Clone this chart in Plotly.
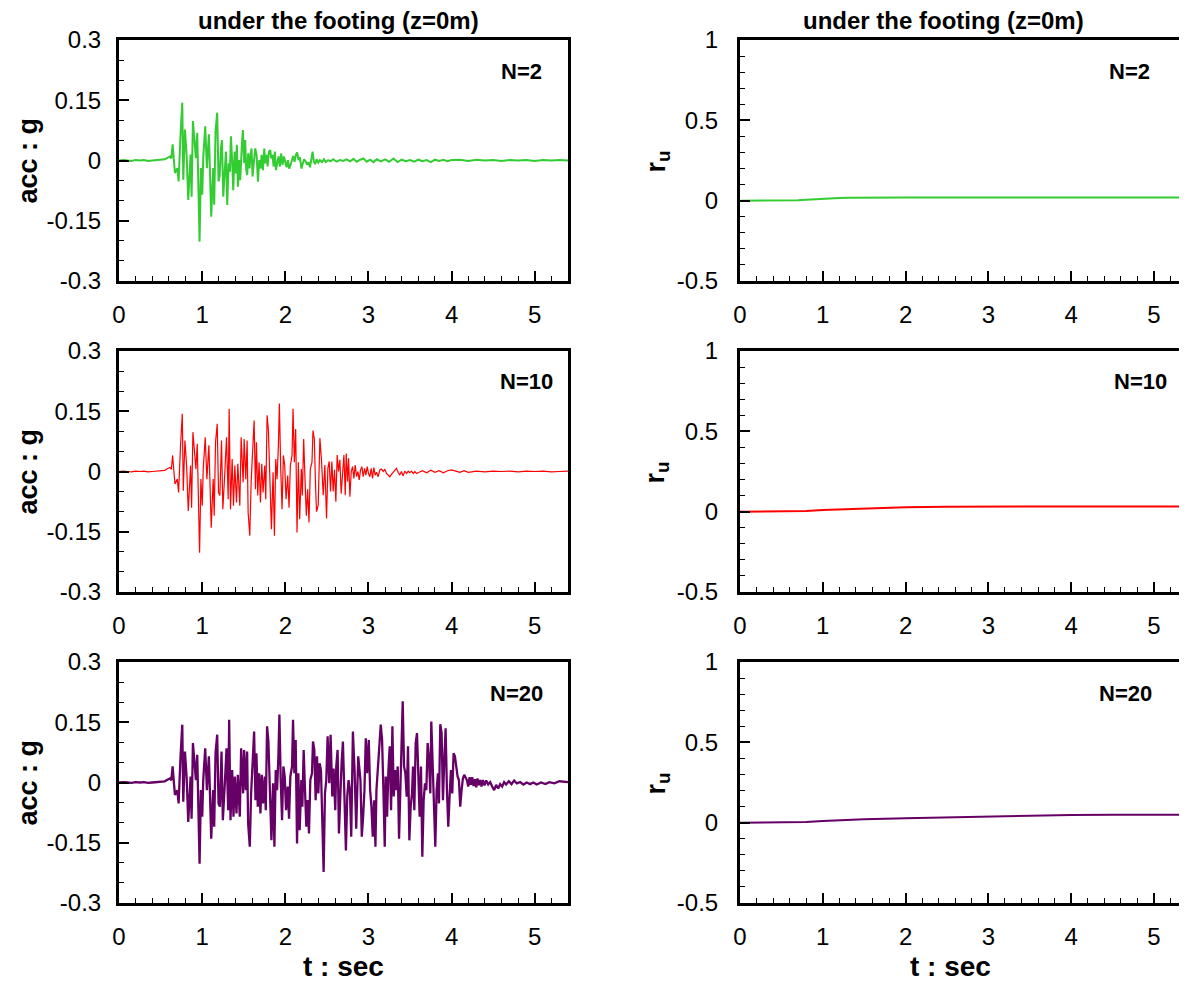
import plotly.graph_objects as go

# ---------------- data ----------------
# lead-in, common to all three records
t_lead = [0.00, 0.05, 0.10, 0.15, 0.20, 0.25, 0.30, 0.35, 0.40, 0.45, 0.50, 0.55]
acc_lead = [0.000, 0.001, 0.000, -0.001, 0.001, 0.000, 0.001, -0.001, 0.000, 0.001, 0.002, 0.003]

# first strong-motion part, common to all three records
t_pre = [0.593, 0.613, 0.629, 0.645, 0.661, 0.673, 0.701, 0.717, 0.741, 0.761,
         0.773, 0.793, 0.813, 0.833, 0.861, 0.873, 0.889, 0.909, 0.925, 0.941,
         0.953, 0.969, 0.985, 1.001, 1.013, 1.037, 1.057, 1.081, 1.093, 1.109,
         1.133, 1.145, 1.161, 1.181, 1.197]
acc_pre = [0.008, 0.010, 0.005, 0.040, -0.002, -0.031, -0.019, -0.052, 0.069, 0.144,
           -0.048, 0.077, 0.015, -0.098, 0.015, -0.090, 0.098, 0.056, 0.006, 0.069,
           -0.019, -0.202, -0.019, -0.085, 0.006, 0.085, -0.019, 0.065, -0.019, -0.140,
           -0.019, -0.110, 0.073, 0.119, -0.052]

# middle part, common to N=10 and N=20
t_mid = [1.213, 1.233, 1.249, 1.273, 1.293, 1.313, 1.325, 1.341, 1.361, 1.377,
         1.393, 1.413, 1.429, 1.453, 1.469, 1.493, 1.505, 1.525, 1.541, 1.553,
         1.573, 1.589, 1.609, 1.625, 1.641, 1.653, 1.669, 1.685, 1.701, 1.717,
         1.733, 1.753, 1.765, 1.781, 1.797, 1.817, 1.833, 1.853, 1.869, 1.885,
         1.901, 1.917, 1.929, 1.945, 1.961, 1.977, 1.993, 2.009, 2.029, 2.045,
         2.061, 2.081, 2.093, 2.109, 2.125, 2.141, 2.157, 2.173, 2.193, 2.205,
         2.221, 2.237, 2.253, 2.269, 2.285, 2.301, 2.321, 2.333, 2.349, 2.365]
acc_mid = [-0.060, 0.077, -0.094, -0.002, 0.085, -0.069, 0.156, -0.094, 0.031, -0.085,
           0.015, -0.077, 0.019, -0.085, 0.085, -0.027, 0.081, -0.019, 0.077, -0.102,
           -0.160, -0.027, 0.081, 0.127, -0.044, 0.073, -0.060, 0.023, -0.077, 0.019,
           -0.052, 0.015, -0.069, 0.140, 0.102, -0.035, -0.144, -0.002, -0.160, 0.031,
           -0.019, 0.065, 0.169, 0.006, -0.094, 0.040, 0.015, -0.069, -0.010, -0.090,
           0.015, 0.040, 0.156, 0.023, 0.106, -0.152, 0.023, -0.119, 0.006, -0.060,
           0.081, -0.019, -0.110, -0.044, -0.127, 0.006, 0.023, 0.102, 0.081, -0.044]

# N=2 after 1.2 s
t_n2_rest = [1.210, 1.226, 1.238, 1.254, 1.270, 1.286, 1.302, 1.318, 1.334, 1.346,
             1.362, 1.374, 1.390, 1.402, 1.418, 1.430, 1.446, 1.458, 1.478, 1.490,
             1.506, 1.518, 1.530, 1.542, 1.554, 1.570, 1.582, 1.594, 1.606, 1.622,
             1.638, 1.655, 1.671, 1.687, 1.703, 1.715, 1.731, 1.747, 1.759, 1.775,
             1.787, 1.803, 1.819, 1.831, 1.847, 1.859, 1.875, 1.887, 1.903, 1.919,
             1.935, 1.951, 1.967, 1.983, 1.999, 2.015, 2.031, 2.047, 2.063, 2.079,
             2.095, 2.111, 2.127, 2.143, 2.159, 2.175, 2.195, 2.211, 2.227, 2.247,
             2.263, 2.280, 2.296, 2.312, 2.328, 2.344, 2.360, 2.376, 2.396, 2.416,
             2.440, 2.464, 2.488, 2.516, 2.544, 2.576, 2.616, 2.656, 2.696, 2.736,
             2.78, 2.82, 2.86, 2.90, 2.94, 2.98, 3.02, 3.06, 3.10, 3.15,
             3.20, 3.25, 3.30, 3.35, 3.40, 3.45, 3.50, 3.55, 3.60, 3.65,
             3.70, 3.75, 3.80, 3.85, 3.90, 3.95, 4.00, 4.10, 4.20, 4.30,
             4.40, 4.50, 4.60, 4.70, 4.80, 4.90, 5.00, 5.10, 5.20, 5.30,
             5.40]
acc_n2_rest = [-0.040, 0.030, 0.051, -0.090, -0.020, 0.022, -0.111, -0.007, -0.028, 0.060,
               -0.007, -0.074, 0.022, -0.032, 0.039, -0.065, 0.001, -0.049, 0.039, 0.076,
               -0.007, 0.051, -0.024, -0.036, 0.018, -0.020, 0.014, 0.030, -0.040, -0.007,
               0.030, 0.014, -0.053, 0.001, -0.020, 0.014, -0.024, 0.030, -0.007, 0.014,
               -0.015, 0.022, 0.026, 0.005, 0.014, -0.015, 0.022, -0.024, -0.003, 0.010,
               -0.015, 0.018, -0.011, 0.010, -0.003, -0.017, 0.001, -0.020, -0.011, 0.001,
               0.011, -0.003, 0.014, 0.020, 0.001, 0.008, -0.020, -0.007, 0.003, -0.003,
               -0.011, -0.004, -0.017, 0.001, 0.022, -0.003, -0.009, 0.003, -0.005, 0.001,
               -0.004, 0.003, -0.004, 0.001, -0.002, 0.003, -0.003, 0.001, -0.001, 0.003,
               -0.002, 0.004, -0.003, 0.002, 0.005, -0.003, 0.002, -0.004, 0.003, -0.002,
               0.003, -0.003, 0.005, -0.004, 0.002, -0.002, 0.001, -0.003, 0.002, -0.002,
               0.001, -0.004, 0.002, -0.001, 0.002, -0.002, 0.001, 0.002, -0.001, 0.002,
               0.000, 0.001, -0.001, 0.001, 0.000, 0.001, -0.001, 0.001, 0.000, 0.001,
               0.000]

# N=10 after 2.37 s
t_n10_rest = [2.376, 2.396, 2.416, 2.436, 2.456, 2.476, 2.496, 2.512, 2.528, 2.544,
              2.560, 2.576, 2.592, 2.608, 2.624, 2.640, 2.656, 2.672, 2.688, 2.705,
              2.721, 2.733, 2.749, 2.761, 2.777, 2.793, 2.809, 2.825, 2.841, 2.857,
              2.873, 2.889, 2.905, 2.921, 2.937, 2.953, 2.969, 2.985, 3.001, 3.017,
              3.033, 3.049, 3.065, 3.081, 3.097, 3.117, 3.137, 3.157, 3.177, 3.197,
              3.217, 3.237, 3.257, 3.277, 3.297, 3.317, 3.337, 3.357, 3.377, 3.397,
              3.417, 3.437, 3.458, 3.478, 3.498, 3.518, 3.538, 3.558, 3.578, 3.610,
              3.65, 3.70, 3.75, 3.80, 3.85, 3.90, 3.95, 4.00, 4.05, 4.10,
              4.15, 4.20, 4.30, 4.40, 4.50, 4.60, 4.70, 4.80, 4.90, 5.00,
              5.10, 5.20, 5.30, 5.40]
acc_n10_rest = [-0.100, -0.084, 0.083, 0.025, -0.059, 0.016, -0.117, 0.008, 0.025, -0.050,
                0.025, -0.050, 0.004, -0.075, 0.041, 0.000, 0.029, -0.055, 0.008, 0.041,
                -0.059, 0.045, -0.025, 0.033, -0.063, 0.000, 0.012, -0.017, 0.016, -0.013,
                0.000, -0.021, 0.004, 0.012, -0.013, 0.008, -0.009, 0.012, -0.005, -0.013,
                0.008, -0.017, 0.010, -0.009, -0.002, -0.013, 0.004, 0.006, 0.000, 0.006,
                -0.005, -0.009, -0.013, -0.007, -0.002, 0.004, 0.008, -0.002, -0.009, 0.000,
                -0.011, 0.001, -0.005, 0.001, -0.003, 0.001, -0.005, 0.000, -0.005, -0.002,
                0.002, -0.003, 0.003, -0.002, 0.002, -0.003, 0.002, 0.004, 0.001, -0.002,
                0.002, -0.002, 0.001, -0.001, 0.001, 0.000, 0.001, -0.001, 0.001, 0.000,
                0.001, -0.001, 0.000, 0.001]

# N=20 after 2.37 s
t_n20_rest = [2.381, 2.397, 2.413, 2.429, 2.445, 2.461, 2.477, 2.493, 2.509, 2.529,
              2.545, 2.565, 2.581, 2.601, 2.613, 2.629, 2.645, 2.661, 2.677, 2.693,
              2.713, 2.729, 2.745, 2.761, 2.777, 2.793, 2.813, 2.833, 2.853, 2.877,
              2.904, 2.920, 2.936, 2.952, 2.968, 2.984, 3.004, 3.020, 3.036, 3.052,
              3.068, 3.084, 3.096, 3.112, 3.128, 3.148, 3.164, 3.180, 3.196, 3.208,
              3.224, 3.240, 3.256, 3.272, 3.288, 3.304, 3.320, 3.336, 3.352, 3.368,
              3.384, 3.396, 3.412, 3.428, 3.444, 3.460, 3.476, 3.492, 3.508, 3.524,
              3.536, 3.552, 3.568, 3.584, 3.600, 3.616, 3.632, 3.648, 3.664, 3.680,
              3.696, 3.712, 3.728, 3.744, 3.756, 3.772, 3.788, 3.804, 3.820, 3.836,
              3.848, 3.864, 3.880, 3.896, 3.912, 3.928, 3.944, 3.960, 3.976, 3.992,
              4.008, 4.024, 4.040, 4.056, 4.072, 4.088, 4.104, 4.120, 4.136, 4.152,
              4.168, 4.184, 4.200, 4.216, 4.232, 4.248, 4.264, 4.280, 4.296, 4.312,
              4.328, 4.344, 4.360, 4.376, 4.396, 4.416, 4.440, 4.464, 4.488, 4.512,
              4.536, 4.560, 4.584, 4.608, 4.632, 4.656, 4.688, 4.720, 4.752, 4.784,
              4.824, 4.864, 4.904, 4.944, 4.984, 5.024, 5.076, 5.128, 5.176, 5.236,
              5.296, 5.356, 5.400]
acc_n20_rest = [0.065, -0.027, 0.048, 0.031, -0.110, -0.223, -0.027, 0.006, 0.115, -0.002,
                0.119, -0.035, 0.035, -0.069, 0.040, 0.081, -0.127, -0.019, 0.048, 0.102,
                -0.035, -0.169, -0.035, 0.006, -0.019, -0.135, 0.127, 0.031, -0.115, 0.065,
                0.006, -0.135, -0.085, -0.019, 0.110, 0.023, 0.106, -0.019, -0.060, -0.135,
                -0.044, -0.160, -0.019, 0.023, 0.081, 0.144, 0.106, -0.019, -0.160, 0.015,
                -0.085, 0.031, 0.090, -0.069, 0.140, -0.035, 0.031, -0.019, 0.040, -0.140,
                -0.019, 0.040, 0.202, 0.040, 0.023, -0.035, 0.090, -0.144, -0.060, -0.027,
                0.040, -0.069, 0.098, 0.123, 0.015, -0.085, 0.040, -0.185, -0.044, -0.002,
                -0.019, 0.098, 0.056, -0.027, 0.152, 0.031, -0.044, -0.160, -0.019, 0.023,
                -0.052, 0.145, 0.123, -0.044, 0.056, 0.135, -0.019, -0.110, -0.035, 0.031,
                -0.027, 0.073, 0.065, 0.040, 0.015, 0.006, -0.060, -0.019, 0.010, 0.019,
                0.010, 0.006, -0.010, 0.013, -0.006, 0.013, -0.009, 0.008, -0.012, 0.010,
                -0.007, 0.006, -0.010, 0.006, -0.007, 0.005, -0.005, 0.001, -0.010, -0.019,
                -0.006, -0.015, -0.004, -0.010, 0.001, -0.005, 0.003, -0.004, 0.005, -0.002,
                0.001, -0.005, 0.000, -0.004, 0.000, -0.005, 0.000, -0.004, 0.001, -0.002,
                0.003, 0.001, 0.001]

# pore pressure ratio r_u
t_ru_n2 = [0.0, 0.6, 0.7, 0.8, 0.9, 1.0, 1.1, 1.2, 1.3, 1.5, 2.0, 3.0, 4.0, 5.4]
ru_n2 = [0.0, 0.0, 0.002, 0.005, 0.009, 0.012, 0.015, 0.017, 0.018, 0.019, 0.019, 0.019, 0.019, 0.019]
t_ru_n10 = [0.0, 0.6, 0.7, 0.8, 1.0, 1.2, 1.5, 2.0, 2.5, 3.0, 4.0, 5.4]
ru_n10 = [0.0, 0.0, 0.001, 0.004, 0.010, 0.014, 0.020, 0.027, 0.031, 0.032, 0.032, 0.032]
t_ru_n20 = [0.0, 0.6, 0.7, 0.8, 1.0, 1.2, 1.5, 2.0, 2.5, 3.0, 3.5, 4.0, 4.5, 5.0, 5.4]
ru_n20 = [0.0, 0.0, 0.001, 0.004, 0.010, 0.015, 0.021, 0.028, 0.034, 0.039, 0.044, 0.048, 0.049, 0.049, 0.049]

x_ticks = [0, 1, 2, 3, 4, 5]
acc_ticks = [-0.3, -0.15, 0, 0.15, 0.3]
acc_ticktext = ["-0.3", "-0.15", "0", "0.15", "0.3"]
ru_ticks = [-0.5, 0, 0.5, 1]
ru_ticktext = ["-0.5", "0", "0.5", "1"]

case_labels = ["N=2", "N=10", "N=20"]
colors = ["#33cc33", "#ff0000", "#660066"]
widths = [2.0, 1.2, 2.3]

t_acc = [t_lead + t_pre + t_n2_rest,
         t_lead + t_pre + t_mid + t_n10_rest,
         t_lead + t_pre + t_mid + t_n20_rest]
acc = [acc_lead + acc_pre + acc_n2_rest,
       acc_lead + acc_pre + acc_mid + acc_n10_rest,
       acc_lead + acc_pre + acc_mid + acc_n20_rest]
t_ru = [t_ru_n2, t_ru_n10, t_ru_n20]
ru = [ru_n2, ru_n10, ru_n20]

# ---------------- layout ----------------
OFF = 8                      # page body margin of the html page
W, H = 1187 - OFF, 983 - OFF
FONT = "Liberation Sans, Arial, Helvetica, sans-serif"
TICK = 24


def fx(p):
    return (p - OFF) / W


def fy(p):
    return 1 - (p - OFF) / H


tops = [40, 351, 662]
ph = 241
xdoms = [[fx(119), fx(568)], [fx(740), 1.0]]

fig = go.Figure()
layout = dict(width=W, height=H, margin=dict(l=0, r=0, t=0, b=0, autoexpand=False),
              paper_bgcolor="white", plot_bgcolor="white", showlegend=False,
              font=dict(family=FONT, color="black"))

annotations = []
for r in range(3):
    ydom = [fy(tops[r] + ph), fy(tops[r])]
    for c in range(2):
        k = r * 2 + c + 1
        xs = "x" if k == 1 else f"x{k}"
        ys = "y" if k == 1 else f"y{k}"
        if c == 0:
            fig.add_trace(go.Scatter(x=t_acc[r], y=acc[r], mode="lines",
                                     line=dict(color=colors[r], width=widths[r]),
                                     xaxis=xs, yaxis=ys))
        else:
            fig.add_trace(go.Scatter(x=t_ru[r], y=ru[r], mode="lines",
                                     line=dict(color=colors[r], width=2.0),
                                     xaxis=xs, yaxis=ys))
        layout["xaxis" + ("" if k == 1 else str(k))] = dict(
            domain=xdoms[c], anchor=ys, range=[0, 5.4], tickvals=x_ticks,
            ticks="inside", ticklen=10, tickwidth=1.5, tickcolor="black",
            minor=dict(ticks="inside", ticklen=5, tickwidth=1.2, dtick=0.2, tick0=0,
                       tickcolor="black", showgrid=False),
            showline=True, linewidth=3, linecolor="black", mirror=True,
            showgrid=False, zeroline=False, automargin=False,
            tickfont=dict(size=TICK, family=FONT, color="black"),
            ticklabelstandoff=10)
        if c == 0:
            ycfg = dict(range=[-0.3, 0.3], tickvals=acc_ticks, ticktext=acc_ticktext,
                        minor=dict(ticks="inside", ticklen=5, tickwidth=1.2, dtick=0.05,
                                   tick0=0, tickcolor="black", showgrid=False),
                        mirror=True, ticklabelstandoff=10)
        else:
            ycfg = dict(range=[-0.5, 1.0], tickvals=ru_ticks, ticktext=ru_ticktext,
                        minor=dict(ticks="inside", ticklen=5, tickwidth=1.2, dtick=0.1,
                                   tick0=0, tickcolor="black", showgrid=False),
                        mirror=False, ticklabelstandoff=14)
        ycfg.update(domain=ydom, anchor=xs, ticks="inside", ticklen=10, tickwidth=1.5,
                    tickcolor="black", showline=True, linewidth=3, linecolor="black",
                    showgrid=False, zeroline=False, automargin=False,
                    tickfont=dict(size=TICK, family=FONT, color="black"))
        layout["yaxis" + ("" if k == 1 else str(k))] = ycfg

    # panel labels N=...
    mid_y = tops[r] + ph / 2
    lab_y = fy(tops[r] + 31)
    lab_x_left = [521, 526, 516][r]
    lab_x_right = [1129, 1140, 1125][r]
    for lx in (lab_x_left, lab_x_right):
        annotations.append(dict(text=f"<b>{case_labels[r]}</b>", x=fx(lx), y=lab_y,
                                xref="paper", yref="paper", xanchor="center", yanchor="middle",
                                showarrow=False, font=dict(size=22, family=FONT, color="black")))
    # y titles
    annotations.append(dict(text="<b>acc : g</b>", x=fx(27), y=fy(mid_y), xref="paper",
                            yref="paper", xanchor="center", yanchor="middle", textangle=-90,
                            showarrow=False, font=dict(size=27, family=FONT, color="black")))
    annotations.append(dict(text="<b>r<sub>u</sub></b>", x=fx(657), y=fy(mid_y + 1),
                            xref="paper", yref="paper", xanchor="center", yanchor="middle",
                            textangle=-90, showarrow=False,
                            font=dict(size=27, family=FONT, color="black")))

for cx in (338, 943):
    annotations.append(dict(text="<b>under the footing (z=0m)</b>", x=fx(cx), y=fy(20),
                            xref="paper", yref="paper", xanchor="center", yanchor="middle",
                            showarrow=False, font=dict(size=24, family=FONT, color="black")))
for cx in (343, 950):
    annotations.append(dict(text="<b>t : sec</b>", x=fx(cx), y=fy(966),
                            xref="paper", yref="paper", xanchor="center", yanchor="middle",
                            showarrow=False, font=dict(size=28, family=FONT, color="black")))

layout["annotations"] = annotations
fig.update_layout(**layout)
fig.write_html("out.html")
